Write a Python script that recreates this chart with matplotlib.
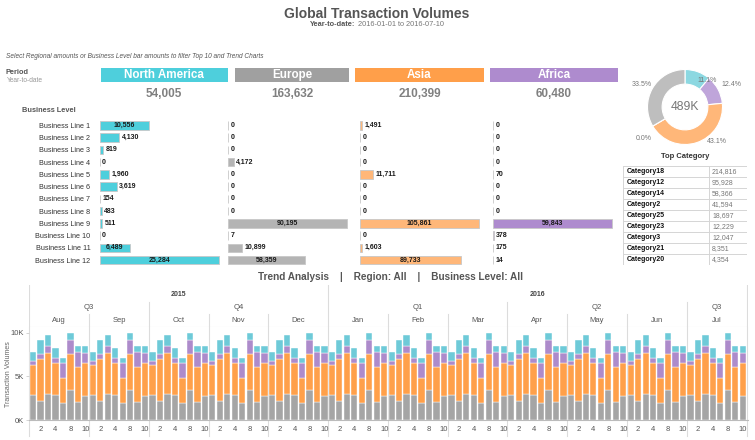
import matplotlib
matplotlib.use("Agg")
import matplotlib.pyplot as plt
from matplotlib.patches import Rectangle
import numpy as np

plt.rcParams['font.family'] = ['Liberation Sans', 'DejaVu Sans']

# ---- data ----
regions = ['North America', 'Europe', 'Asia', 'Africa']
region_totals = [54005, 163632, 210399, 60480]

business_lines = ['Business Line %d' % i for i in range(1, 13)]
na_lines = [10556, 4130, 819, 0, 1960, 3619, 154, 483, 511, 0, 6489, 25284]
europe_lines = [0, 0, 0, 4172, 0, 0, 0, 0, 90195, 7, 10899, 58359]
asia_lines = [1491, 0, 0, 0, 11711, 0, 0, 0, 105861, 0, 1603, 89733]
africa_lines = [0, 0, 0, 0, 70, 0, 0, 0, 59843, 378, 175, 14]

top_categories = ['Category18', 'Category12', 'Category14', 'Category2', 'Category25',
                  'Category23', 'Category3', 'Category21', 'Category20']
top_values = [214816, 95928, 58366, 41594, 18697, 12229, 12047, 8351, 4354]

months = ['Aug', 'Sep', 'Oct', 'Nov', 'Dec', 'Jan', 'Feb', 'Mar', 'Apr', 'May', 'Jun', 'Jul']
month_years = ['2015'] * 5 + ['2016'] * 7
month_quarters = ['Q3', 'Q3', 'Q4', 'Q4', 'Q4', 'Q1', 'Q1', 'Q1', 'Q2', 'Q2', 'Q2', 'Q3']
day_labels = ['', '2', '', '4', '', '8', '', '10']
# the same daily pattern shows up in every month of the trend chart
europe_daily = [2900, 2200, 3000, 2900, 2000, 3400, 2100, 2800]
asia_daily = [3350, 4800, 4650, 3600, 2800, 4100, 4000, 3700]
africa_daily = [500, 500, 850, 600, 1750, 1700, 1700, 1200]
na_daily = [1050, 1700, 1200, 1100, 500, 800, 700, 750]

W, H = 755, 440
header_colors = ['#4ECFDC', '#A0A0A0', '#FF9F4A', '#AE8BCE']
bar_colors = ['#4ECFDC', '#B4B4B4', '#FFB779', '#AE8BCE']
donut_colors = ['#8CD8E1', '#BFA5DA', '#FFB779', '#BEBEBE', '#BEBEBE']
trend_colors = {'Europe': '#A5A5A5', 'Asia': '#FFA04A', 'Africa': '#AD8BCB', 'North America': '#6ECAD8'}
line_c = '#DCDCDC'

fig = plt.figure(figsize=(W / 100, H / 100), dpi=100)


def px_axes(x0, y0, x1, y1):
    return fig.add_axes([x0 / W, 1 - y1 / H, (x1 - x0) / W, (y1 - y0) / H])


bg = fig.add_axes([0, 0, 1, 1], zorder=-1)
bg.set_xlim(0, W)
bg.set_ylim(H, 0)
bg.axis('off')

# titles
bg.text(377, 14, 'Global Transaction Volumes', ha='center', va='center', fontsize=10,
        fontweight='bold', color='#555555')
bg.text(355, 25, 'Year-to-date:', ha='right', va='center', fontsize=5.3, fontweight='bold', color='#555555')
bg.text(357.5, 25, '2016-01-01 to 2016-07-10', ha='left', va='center', fontsize=5.3, color='#777777')
bg.text(6.5, 57, 'Select Regional amounts or Business Level bar amounts to filter Top 10 and Trend Charts',
        ha='left', va='center', fontsize=4.7, style='italic', color='#555555')
bg.text(5.5, 72, 'Period', ha='left', va='center', fontsize=5.3, fontweight='bold', color='#555555')
bg.text(6.5, 80.5, 'Year-to-date', ha='left', va='center', fontsize=4.8, color='#999999')
bg.text(22, 111, 'Business Level', ha='left', va='center', fontsize=5.3, fontweight='bold', color='#555555')

# region header boxes + totals
box_x = [(100.5, 228), (235, 349), (355, 484), (490, 618)]
for (x0, x1), name, tot, c in zip(box_x, regions, region_totals, header_colors):
    bg.add_patch(Rectangle((x0, 67.7), x1 - x0, 14.6, color=c, lw=0))
    bg.text((x0 + x1) / 2, 75.3, name, ha='center', va='center', fontsize=8.4,
            fontweight='bold', color='white')
    bg.text((x0 + x1) / 2, 94, f'{tot:,}', ha='center', va='center', fontsize=8.5,
            fontweight='bold', color='#808080')

# business level bars, one panel per region
panel_x = [(99.5, 224), (228, 352), (360, 484), (493, 617)]
panel_vals = [na_lines, europe_lines, asia_lines, africa_lines]
for i, ((x0, x1), vals, c) in enumerate(zip(panel_x, panel_vals, bar_colors)):
    ax = px_axes(x0, 119.2, x1, 266.2)
    ypos = np.arange(len(vals))
    ax.barh(ypos, vals, height=0.7, color=c, edgecolor='#C8C8C8', linewidth=0.6)
    xmax = max(vals) * 1.04
    ax.set_xlim(0, xmax)
    ax.set_ylim(len(vals) - 0.5, -0.5)
    for s in ax.spines.values():
        s.set_visible(False)
    ax.set_xticks([])
    if i == 0:
        ax.set_yticks(ypos, business_lines)
        ax.tick_params(axis='y', length=0, pad=6.5, labelsize=5.2, labelcolor='#333333')
    else:
        ax.set_yticks([])
    pw = x1 - x0
    for y, v in zip(ypos, vals):
        txt = f'{v:,}'
        lw = sum(1.9 if ch == ',' else 3.9 for ch in txt)
        bar_px = v / xmax * pw
        if bar_px >= lw + 4:
            ax.text(v / 2, y, txt, ha='center', va='center', fontsize=5, fontweight='bold', color='#1A1A1A')
        else:
            ax.annotate(txt, (v, y), xytext=(2.5, 0), textcoords='offset pixels', ha='left', va='center',
                        fontsize=5, fontweight='bold', color='#1A1A1A')

# donut
cx, cy, r = 685, 107, 37.5
axd = px_axes(cx - 42, cy - 42, cx + 42, cy + 42)
donut_vals = [region_totals[0], region_totals[3], region_totals[2], 0, region_totals[1]]
axd.pie(donut_vals, colors=donut_colors, startangle=90, counterclock=False, radius=1,
        wedgeprops=dict(width=0.39, edgecolor='white', linewidth=0.8))
axd.set_xlim(-42 / r, 42 / r)
axd.set_ylim(-42 / r, 42 / r)
total = sum(region_totals)
axd.text(0, 0, f'{round(total / 1000)}K', ha='center', va='center', fontsize=8.7, color='#777777')
pct_pos = [(0.59, 0.70), (1.245, 0.587), (0.845, -0.907), (-1.11, -0.853), (-1.155, 0.605)]
for v, (lx, ly) in zip(donut_vals, pct_pos):
    axd.text(lx, ly, f'{v / total * 100:.1f}%', ha='center', va='center', fontsize=5, color='#777777')

# top category table
bg.text(685, 157, 'Top Category', ha='center', va='center', fontsize=5.5, fontweight='bold', color='#333333')
axt = px_axes(623, 165.7, 747, 265)
axt.set_xlim(0, 124)
axt.set_ylim(len(top_categories), 0)
axt.axis('off')
for k in range(len(top_categories) + 1):
    axt.axhline(k, color='#D5D5D5', lw=0.7)
axt.axvline(0, color='#D5D5D5', lw=0.7)
axt.axvline(124, color='#D5D5D5', lw=0.7)
axt.axvline(86.3, color='#D5D5D5', lw=0.7)
for k, (cat, v) in enumerate(zip(top_categories, top_values)):
    axt.text(4, k + 0.5, cat, ha='left', va='center', fontsize=5, fontweight='bold', color='#111111')
    axt.text(89, k + 0.5, f'{v:,}', ha='left', va='center', fontsize=5, color='#777777')

# trend analysis
bg.text(390, 277, 'Trend Analysis    |    Region: All    |    Business Level: All', ha='center',
        va='center', fontsize=7.2, fontweight='bold', color='#555555')

n_day = len(day_labels)
n_bar = n_day * len(months)
axh = px_axes(29.3, 285, 748, 327.3)
axh.set_xlim(0, n_bar + 0.2)
axh.set_ylim(0, 3)
axh.axis('off')
axh.axhline(0, color=line_c, lw=0.8)
for m in range(len(months) + 1):
    if m == 0 or m == len(months) or month_years[m] != month_years[m - 1]:
        top = 1
    elif month_quarters[m] != month_quarters[m - 1]:
        top = 0.605
    else:
        top = 0.315
    axh.axvline(m * n_day, ymin=0, ymax=top, color=line_c, lw=0.8)
for m, name in enumerate(months):
    axh.text(m * n_day + n_day / 2, 0.45, name, ha='center', va='center', fontsize=5.5, color='#555555')


def groups(keys):
    out, start = [], 0
    for m in range(1, len(keys) + 1):
        if m == len(keys) or keys[m] != keys[start]:
            out.append((start, m, keys[start]))
            start = m
    return out


for a, b, q in groups([y + q for y, q in zip(month_years, month_quarters)]):
    axh.text((a + b) / 2 * n_day, 1.37, q[4:], ha='center', va='center', fontsize=5.5, color='#555555')
for a, b, yr in groups(month_years):
    axh.text((a + b) / 2 * n_day, 2.36, yr, ha='center', va='center', fontsize=5, fontweight='bold',
             color='#444444')

axtr = px_axes(29.3, 327.3, 748, 420)
x = np.arange(n_bar) + 0.5
bottom = np.zeros(n_bar)
for name, daily in [('Europe', europe_daily), ('Asia', asia_daily), ('Africa', africa_daily),
                    ('North America', na_daily)]:
    vals = np.tile(daily, len(months))
    axtr.bar(x, vals, width=0.84, bottom=bottom, color=trend_colors[name], edgecolor='white', linewidth=0.3)
    bottom += vals
axtr.set_xlim(0, n_bar + 0.2)
axtr.set_ylim(0, 10600)
for m in range(len(months) + 1):
    axtr.axvline(m * n_day, ymin=-0.17, ymax=1, color=line_c, lw=0.8, clip_on=False, zorder=0)
for s in ['top', 'right', 'left']:
    axtr.spines[s].set_visible(False)
axtr.spines['bottom'].set_color('#BBBBBB')
axtr.spines['bottom'].set_linewidth(0.8)
axtr.set_yticks([0, 5000, 10000], ['0K', '5K', '10K'])
tick_pos, tick_lab = [], []
for m in range(len(months)):
    for d, lab in enumerate(day_labels):
        if lab:
            tick_pos.append(m * n_day + d + 0.5)
            tick_lab.append(lab)
axtr.set_xticks(tick_pos, tick_lab)
axtr.tick_params(axis='x', length=0, pad=4, labelsize=5.5, labelcolor='#555555')
axtr.tick_params(axis='y', length=2, width=0.6, color='#CCCCCC', pad=1.5, labelsize=5.5, labelcolor='#555555')
bg.text(9, 374, 'Transaction Volumes', rotation=90, ha='center', va='center', fontsize=5, color='#666666')

fig.savefig('out.png', dpi=100)
